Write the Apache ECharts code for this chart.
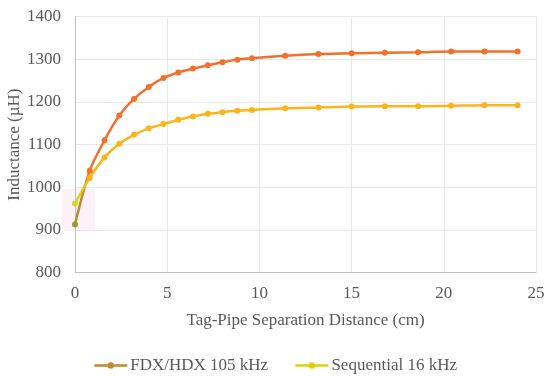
<!DOCTYPE html>
<html>
<head>
<meta charset="utf-8">
<script src="https://cdn.jsdelivr.net/npm/echarts@6/dist/echarts.min.js"></script>
<style>html,body{margin:0;padding:0;background:#fff}#c{width:550px;height:376px}</style>
</head>
<body>
<div id="c"></div>
<script>
const distances = [0, 0.8, 1.6, 2.4, 3.2, 4.0, 4.8, 5.6, 6.4, 7.2, 8.0, 8.8, 9.6, 11.4, 13.2, 15.0, 16.8, 18.6, 20.4, 22.2, 24.0];
const fdxValues = [913, 1039, 1110, 1168, 1207, 1235, 1256, 1269, 1278, 1286, 1293, 1299, 1302, 1308, 1312, 1314, 1315, 1316, 1318, 1318, 1318];
const seqValues = [962, 1022, 1070, 1102, 1123, 1138, 1148, 1158, 1166, 1172, 1176, 1179, 1181, 1185, 1187, 1189, 1190, 1190, 1191, 1192, 1192];
const seriesNames = ['FDX/HDX 105 kHz', 'Sequential 16 kHz'];
const xTicks = [0, 5, 10, 15, 20, 25];
const yTicks = [800, 900, 1000, 1100, 1200, 1300, 1400];

const FONT = '"Liberation Serif", "Times New Roman", serif';
const TXT = '#595959';
const FS = 17;
function pairs(xs, ys) { return xs.map((x, i) => [x, ys[i]]); }
function ramp(start, end, n) { const a = [start]; for (let i = 1; i < n; i++) a.push(end); return a; }

const chart = echarts.init(document.getElementById('c'), null, {renderer: 'canvas'});
chart.setOption({
  animation: false,
  backgroundColor: '#fff',
  grid: {left: 75, right: 14, top: 16.5, bottom: 103.3, containLabel: false, outerBoundsMode: 'none'},
  graphic: [{type: 'rect', shape: {x: 62, y: 189, width: 33, height: 42}, style: {fill: 'rgba(252,215,240,0.35)'}, z: -1}],
  xAxis: {
    type: 'value', min: xTicks[0], max: xTicks[xTicks.length - 1], interval: 5,
    name: 'Tag-Pipe Separation Distance (cm)', nameLocation: 'middle', nameGap: 39, nameMoveOverlap: false,
    nameTextStyle: {fontFamily: FONT, fontSize: FS, color: TXT},
    axisLine: {show: true, lineStyle: {color: '#bfbfbf', width: 1}},
    axisTick: {show: false},
    axisLabel: {fontFamily: FONT, fontSize: FS, color: TXT, margin: 12, formatter: v => String(v)},
    splitLine: {show: true, lineStyle: {color: '#e9e9e9', width: 1}}
  },
  yAxis: {
    type: 'value', min: yTicks[0], max: yTicks[yTicks.length - 1], interval: 100,
    name: 'Inductance (µH)', nameLocation: 'middle', nameGap: 52, nameMoveOverlap: false,
    nameTextStyle: {fontFamily: FONT, fontSize: FS, color: TXT},
    axisLine: {show: true, lineStyle: {color: '#bfbfbf', width: 1}},
    axisTick: {show: false},
    axisLabel: {fontFamily: FONT, fontSize: FS, color: TXT, margin: 14, formatter: v => String(v)},
    splitLine: {show: true, lineStyle: {color: '#e9e9e9', width: 1}}
  },
  visualMap: [
    {type: 'continuous', show: false, seriesIndex: 0, dimension: 0, min: 0, max: 24,
     inRange: {color: ramp('#9c9a2c', '#f2702a', 31)}},
    {type: 'continuous', show: false, seriesIndex: 1, dimension: 0, min: 0, max: 24,
     inRange: {color: ramp('#cadb2a', '#fbb41a', 31)}}
  ],
  legend: {
    left: 'center', top: 352, itemWidth: 33, itemHeight: 8, itemGap: 26,
    textStyle: {fontFamily: FONT, fontSize: FS, color: TXT, padding: [0, 0, 0, -2]},
    data: [
      {name: seriesNames[0], itemStyle: {color: '#c08a2e'}, lineStyle: {color: '#c08a2e', width: 2.5}},
      {name: seriesNames[1], itemStyle: {color: '#e2d000'}, lineStyle: {color: '#e2d000', width: 2.5}}
    ]
  },
  series: [
    {name: seriesNames[0], type: 'line', data: pairs(distances, fdxValues), smooth: 0.3,
     symbol: 'circle', symbolSize: 6, lineStyle: {width: 2.5}, itemStyle: {color: '#f2702a'}},
    {name: seriesNames[1], type: 'line', data: pairs(distances, seqValues), smooth: 0.3,
     symbol: 'circle', symbolSize: 6, lineStyle: {width: 2.5}, itemStyle: {color: '#fbb41a'}}
  ]
});
</script>
</body>
</html>
